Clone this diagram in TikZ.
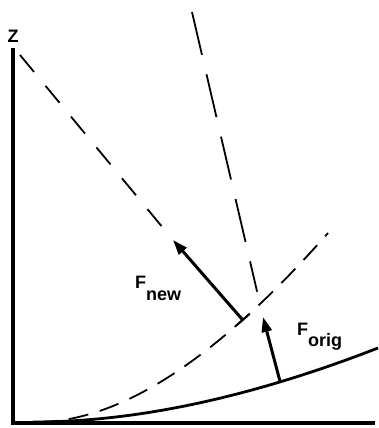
\documentclass[tikz,border=0pt]{standalone}
\usepackage{fontspec}
\setmainfont{Liberation Sans}
\usetikzlibrary{arrows.meta, positioning, calc}

\begin{document}
\begin{tikzpicture}[x=1pt, y=-1pt,
    axis/.style={line width=3.2pt},
    surface/.style={line width=2.8pt},
    guide/.style={line width=1.8pt, dash pattern=on 22pt off 18pt},
    longguide/.style={line width=1.8pt, dash pattern=on 44pt off 20pt},
    shell/.style={line width=1.8pt, dash pattern=on 20pt off 12pt},
    force/.style={-{Triangle[length=15pt,width=10pt]}, line width=3pt},
    lbl/.style={font=\fontsize{18}{18}\selectfont\bfseries, inner sep=0pt}
  ]
  \useasboundingbox (0,0) rectangle (378,428);

  \coordinate (origin) at (13,423);
  \coordinate (ztop) at (13,48);
  \coordinate (xend) at (375,423);
  \draw[axis] (ztop) -- (origin) -- (xend);
  \node[lbl, anchor=base] (zlabel) at (13,42) {Z};

  \draw[surface] (33,422) .. controls (137,422) and (252,397) .. (378,348)
    coordinate[pos=0.735] (forigbase);
  \draw[shell] (37,422) .. controls (120,422) and (217,359) .. (328,233)
    coordinate[pos=0.735] (fnewbase);

  \coordinate (forigtip) at (263,317);
  \coordinate (fnewtip) at (173,240);
  \coordinate (steeptop) at (192,12);
  \coordinate (slanttop) at (20,55);

  \draw[longguide, shorten >=26pt] (steeptop) -- (forigtip);
  \draw[guide, shorten >=8pt] (slanttop) -- (fnewtip);

  \draw[force] (forigbase) -- (forigtip);
  \draw[force] (fnewbase) -- (fnewtip);
  \draw[line width=2pt] ($(fnewbase)!9pt!90:(fnewtip)$) -- ($(fnewbase)!9pt!-90:(fnewtip)$);

  \node[lbl, anchor=base west] (fnewlabel) at (135,288) {F\raisebox{-12pt}{new}};
  \node[lbl, anchor=base west] (foriglabel) at (297,335) {F\raisebox{-11pt}{orig}};
\end{tikzpicture}
\end{document}
